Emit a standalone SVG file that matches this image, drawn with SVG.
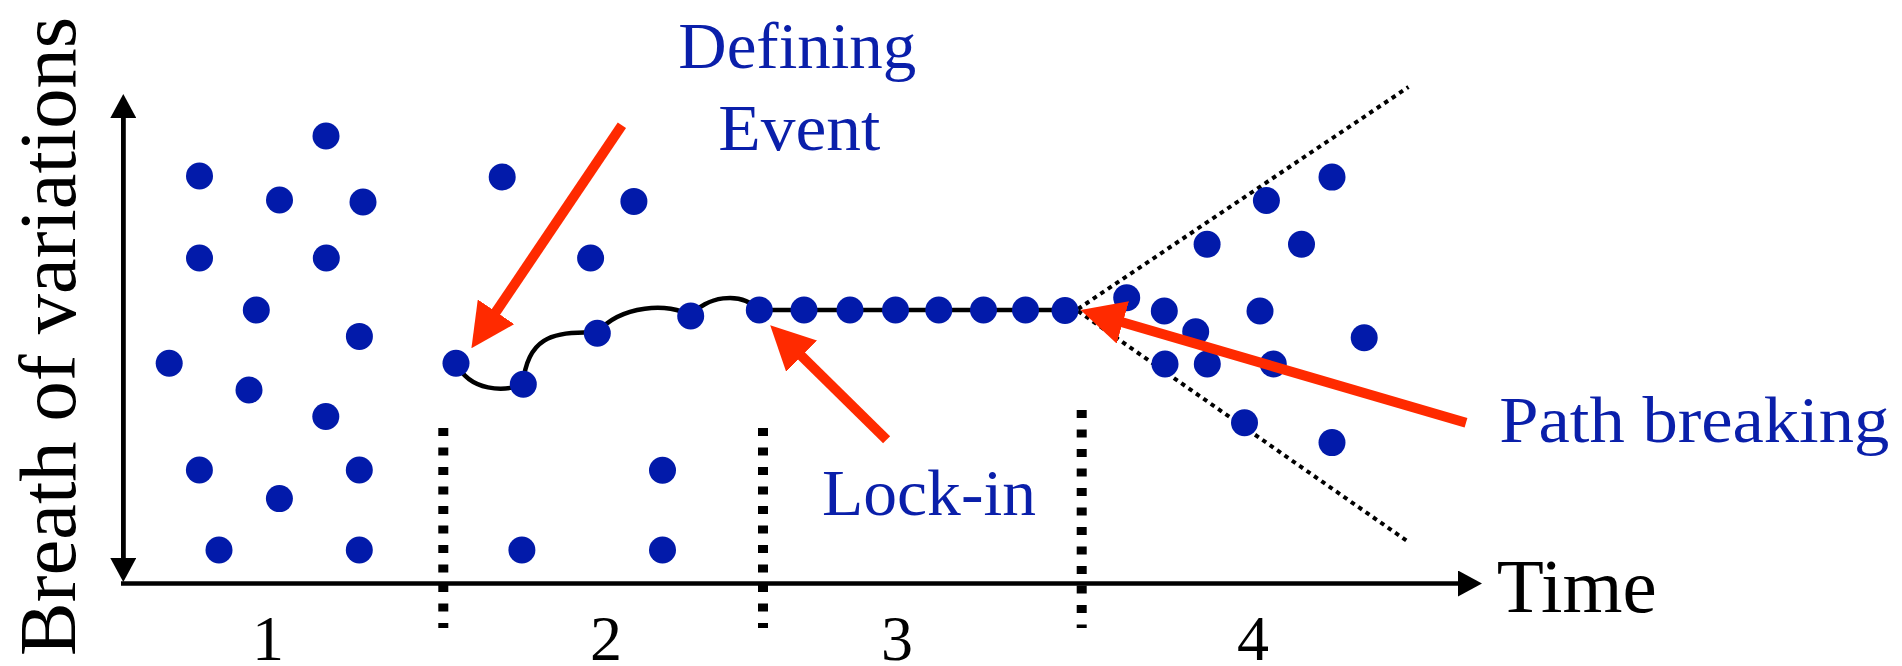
<svg xmlns="http://www.w3.org/2000/svg" width="1902" height="666" viewBox="0 0 1902 666">
<style>
.dot{fill:#021AAA}
.lbl{fill:#0A1FAA;font-size:66px}
.blk{fill:#000}
.axis{stroke:#000;stroke-width:4.5;fill:none}
.sep{stroke:#000;stroke-width:10;stroke-dasharray:8 11.5;fill:none}
.fan{stroke:#000;stroke-width:4;stroke-dasharray:4.5 4.5;fill:none}
.red{stroke:#FF2A00;stroke-width:10;fill:none}
.path{stroke:#000;stroke-width:4.5;fill:none}
</style>
<defs>
<marker id="ah" markerUnits="userSpaceOnUse" markerWidth="26" markerHeight="26" refX="2" refY="13" orient="auto" viewBox="0 0 24 26">
<path d="M0,0 L24,13 L0,26 z" fill="#000"/>
</marker>
<marker id="rh" markerUnits="userSpaceOnUse" markerWidth="44" markerHeight="44" refX="14" refY="22" orient="auto" viewBox="0 0 44 44">
<path d="M0,0 L44,22 L0,44 z" fill="#FF2A00"/>
</marker>
</defs>

<g id="axes">
<line class="axis" x1="123.3" y1="560" x2="123.3" y2="116" marker-end="url(#ah)"/>
<line class="axis" x1="123.3" y1="116" x2="123.3" y2="560" marker-end="url(#ah)"/>
<line class="axis" x1="121" y1="583.5" x2="1460" y2="583.5" marker-end="url(#ah)"/>
</g>

<g id="separators">
<line class="sep" x1="443.3" y1="428" x2="443.3" y2="628"/>
<line class="sep" x1="763" y1="428" x2="763" y2="628"/>
<line class="sep" x1="1081.7" y1="410" x2="1081.7" y2="628"/>
</g>

<g id="fan">
<line class="fan" x1="1078" y1="309" x2="1408.5" y2="87"/>
<line class="fan" x1="1078" y1="311" x2="1408.5" y2="542"/>
</g>

<g id="lock-path">
<path class="path" d="M456,363 C470,392 505,392 523,384 C527,340 550,330 597,333 C620,305 670,302 691,316 C705,297 740,290 759,310 L1065,310"/>
</g>

<g id="dots">
<circle class="dot" cx="326" cy="136" r="13.5"/>
<circle class="dot" cx="199.5" cy="176" r="13.5"/>
<circle class="dot" cx="279.5" cy="200" r="13.5"/>
<circle class="dot" cx="363" cy="202" r="13.5"/>
<circle class="dot" cx="199.5" cy="258" r="13.5"/>
<circle class="dot" cx="326.3" cy="258" r="13.5"/>
<circle class="dot" cx="256.3" cy="310" r="13.5"/>
<circle class="dot" cx="359.4" cy="336.4" r="13.5"/>
<circle class="dot" cx="169.2" cy="363.2" r="13.5"/>
<circle class="dot" cx="249" cy="390" r="13.5"/>
<circle class="dot" cx="325.8" cy="416.5" r="13.5"/>
<circle class="dot" cx="199.4" cy="470" r="13.5"/>
<circle class="dot" cx="359.3" cy="470" r="13.5"/>
<circle class="dot" cx="279.4" cy="498.6" r="13.5"/>
<circle class="dot" cx="219" cy="550" r="13.5"/>
<circle class="dot" cx="359.3" cy="550" r="13.5"/>

<circle class="dot" cx="502.2" cy="177" r="13.5"/>
<circle class="dot" cx="633.9" cy="201.4" r="13.5"/>
<circle class="dot" cx="590.6" cy="258" r="13.5"/>
<circle class="dot" cx="662.5" cy="470.2" r="13.5"/>
<circle class="dot" cx="521.9" cy="550" r="13.5"/>
<circle class="dot" cx="662.5" cy="550" r="13.5"/>

<circle class="dot" cx="456" cy="363.3" r="13.5"/>
<circle class="dot" cx="523.3" cy="384.3" r="13.5"/>
<circle class="dot" cx="597.3" cy="333.3" r="13.5"/>
<circle class="dot" cx="690.7" cy="316" r="13.5"/>
<circle class="dot" cx="759.3" cy="310" r="13.5"/>
<circle class="dot" cx="804" cy="310" r="13.5"/>
<circle class="dot" cx="850" cy="310" r="13.5"/>
<circle class="dot" cx="895.5" cy="310" r="13.5"/>
<circle class="dot" cx="938.8" cy="310" r="13.5"/>
<circle class="dot" cx="983.5" cy="310" r="13.5"/>
<circle class="dot" cx="1025.5" cy="310" r="13.5"/>
<circle class="dot" cx="1065" cy="310.5" r="13.5"/>

<circle class="dot" cx="1126.7" cy="297.7" r="13.5"/>
<circle class="dot" cx="1164.3" cy="311" r="13.5"/>
<circle class="dot" cx="1195.7" cy="331.7" r="13.5"/>
<circle class="dot" cx="1165" cy="364" r="13.5"/>
<circle class="dot" cx="1207.3" cy="364" r="13.5"/>
<circle class="dot" cx="1273.3" cy="364" r="13.5"/>
<circle class="dot" cx="1260" cy="311" r="13.5"/>
<circle class="dot" cx="1207.1" cy="244.3" r="13.5"/>
<circle class="dot" cx="1266.4" cy="200.5" r="13.5"/>
<circle class="dot" cx="1332" cy="177.1" r="13.5"/>
<circle class="dot" cx="1301.5" cy="244.3" r="13.5"/>
<circle class="dot" cx="1364.2" cy="337.7" r="13.5"/>
<circle class="dot" cx="1244.5" cy="422.7" r="13.5"/>
<circle class="dot" cx="1332" cy="442.6" r="13.5"/>
</g>

<g id="arrows">
<line class="red" x1="621.9" y1="125.3" x2="488.2" y2="323.4" marker-end="url(#rh)"/>
<line class="red" x1="886.6" y1="439.7" x2="791.6" y2="346.3" marker-end="url(#rh)"/>
<line class="red" x1="1466" y1="422.7" x2="1109.4" y2="318.5" marker-end="url(#rh)"/>
</g>

<g id="labels" font-family="Liberation Serif, Times New Roman, serif">
<text class="lbl" x="678.3" y="68.3" textLength="238" lengthAdjust="spacingAndGlyphs">Defining</text>
<text class="lbl" x="718.3" y="150" textLength="162" lengthAdjust="spacingAndGlyphs">Event</text>
<text class="lbl" x="822" y="515" textLength="214" lengthAdjust="spacingAndGlyphs">Lock-in</text>
<text class="lbl" x="1499.3" y="441.7" textLength="390" lengthAdjust="spacingAndGlyphs">Path breaking</text>
<text class="blk" x="1496.7" y="611.7" font-size="76" textLength="160" lengthAdjust="spacingAndGlyphs">Time</text>
<text class="blk" transform="translate(75,656) rotate(-90)" x="0" y="0" font-size="80" textLength="639" lengthAdjust="spacingAndGlyphs">Breath of variations</text>
<text class="blk" x="268" y="660" font-size="64" text-anchor="middle">1</text>
<text class="blk" x="606" y="660" font-size="64" text-anchor="middle">2</text>
<text class="blk" x="897" y="660" font-size="64" text-anchor="middle">3</text>
<text class="blk" x="1253" y="660" font-size="64" text-anchor="middle">4</text>
</g>
</svg>
